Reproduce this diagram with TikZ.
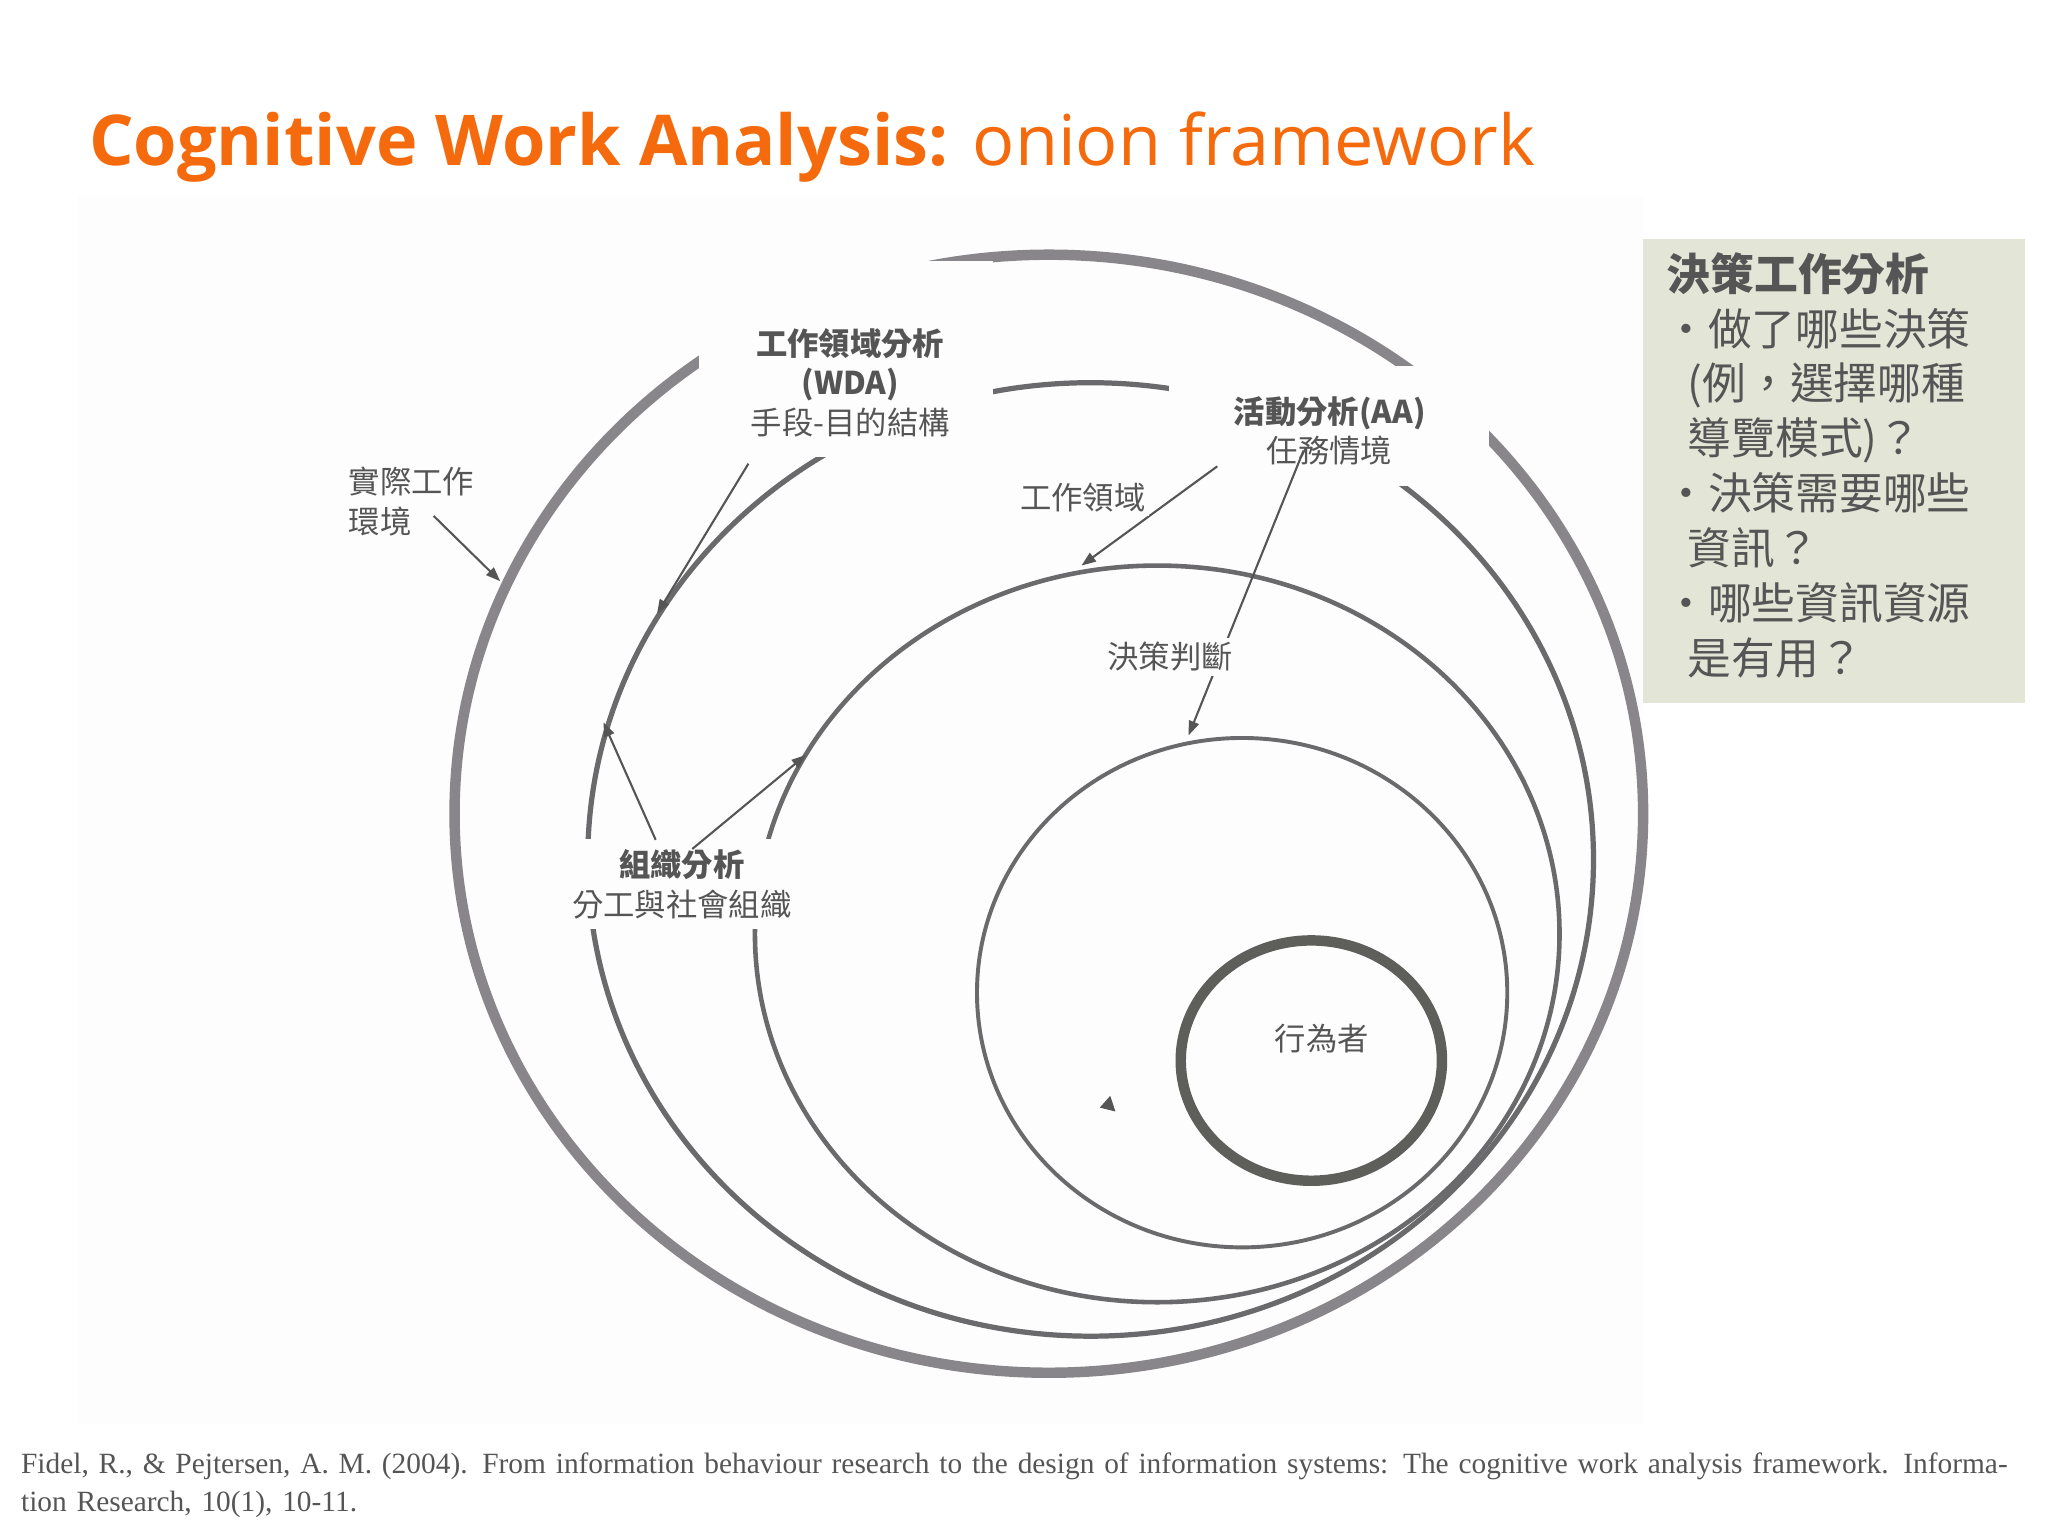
\documentclass[tikz,border=0pt]{standalone}
\usepackage{fontspec}
\setmainfont{Open Sans}
\newfontfamily\cjk{Noto Sans CJK TC}
\newfontfamily\citefont{Liberation Serif}
\usetikzlibrary{arrows.meta}
\definecolor{orng}{HTML}{F46A0C}
\definecolor{ring}{HTML}{88868A}
\definecolor{ringb}{HTML}{6A696B}
\definecolor{core}{HTML}{5E5E5A}
\definecolor{txt}{HTML}{555555}
\definecolor{boxbg}{HTML}{E3E5D7}
\definecolor{pane}{HTML}{FDFDFD}
\tikzset{
  lab/.style={font=\cjk\fontsize{24}{30}\selectfont, text=txt, align=center, fill=pane, inner sep=3pt},
  conn/.style={draw=txt, line width=1.6pt},
  arr/.style={conn, -{Triangle[length=11pt,width=8pt]}},
}
\begin{document}
\begin{tikzpicture}[x=1pt,y=-1pt]
\useasboundingbox (0,0) rectangle (1568,1176);
\fill[white] (0,0) rectangle (1568,1176);
\fill[pane] (60,150) rectangle (1258,1090);
\node[anchor=base west, inner sep=0, text=orng, font=\fontsize{53.7}{64}\selectfont] (title) at (68,127) {\textbf{Cognitive Work Analysis:} onion framework};
% rings
\draw[ring, line width=8pt] (803,623) ellipse [x radius=455, y radius=428];
\draw[ringb, line width=4pt] (835,658) ellipse [x radius=385, y radius=365];
\draw[ringb, line width=3.5pt] (886,715) ellipse [x radius=308, y radius=282];
\draw[ringb, line width=3pt] (951,760) ellipse [x radius=203, y radius=195];
\draw[core, line width=8pt] (1004,812) ellipse [x radius=100, y radius=92];
% gap covers
\fill[pane] (535,200) rectangle (760,350);
\fill[pane] (895,280) rectangle (1140,372);
% coordinates for connector ends
\coordinate (e1) at (383,445);
\coordinate (e2a) at (503,470);
\coordinate (e3a) at (828,433);
\coordinate (e4) at (910,563);
\coordinate (e2b) at (462,553);
\coordinate (e3b) at (617,578);
% labels
\node[lab, fill=none] (wda) at (651,293) {\textbf{工作領域分析}\\\textbf{(WDA)}\\手段-目的結構};
\node[lab, fill=none] (aa) at (1018,330) {\textbf{活動分析(AA)}\\任務情境};
\node[lab, fill=none, align=left] (env) at (315,384) {實際工作\\環境};
\node[lab, inner sep=8pt] (org) at (522,677) {\textbf{組織分析}\\分工與社會組織};
% connectors
\draw[arr] (332,395) coordinate (s1) -- (e1);
\draw[arr] (573,355) coordinate (s2) -- (e2a);
\draw[arr] (932,357) coordinate (s3) -- (e3a);
\draw[arr] (998,345) coordinate (s4) -- (e4);
\draw[arr] (502,643) coordinate (s5) -- (e2b);
\draw[arr] (530,650) coordinate (s6) -- (e3b);
\node[lab] (dom) at (829,381) {工作領域};
\node[lab] (dec) at (896,503) {決策判斷};
\node[lab, fill=none] (actor) at (1012,795) {行為者};
\fill[txt] (842,848) -- (854,851) -- (850,839) -- cycle;
% side box
\node[fill=boxbg, anchor=north west, minimum width=292pt, minimum height=355pt, inner sep=0] (box) at (1258,183) {};
\node[anchor=north west, text=txt, align=left, font=\cjk\fontsize{33.5}{42}\selectfont, inner sep=0] (boxt) at (1276,193) {\textbf{決策工作分析}\\
\hspace*{-2pt}•做了哪些決策\\
\hspace*{16pt}(例，選擇哪種\\
\hspace*{16pt}導覽模式)？\\
\hspace*{-2pt}•決策需要哪些\\
\hspace*{16pt}資訊？\\
\hspace*{-2pt}•哪些資訊資源\\
\hspace*{16pt}是有用？};
\node[anchor=north west, text=txt, align=left, font=\citefont\fontsize{22.5}{29}\selectfont, inner sep=0, text width=1535pt] (ref) at (16,1112) {\raggedright Fidel, R., \& Pejtersen, A. M. (2004). From information behaviour research to the design of information systems: The cognitive work analysis framework. Information Research, 10(1), 10-11.};
\end{tikzpicture}
\end{document}
